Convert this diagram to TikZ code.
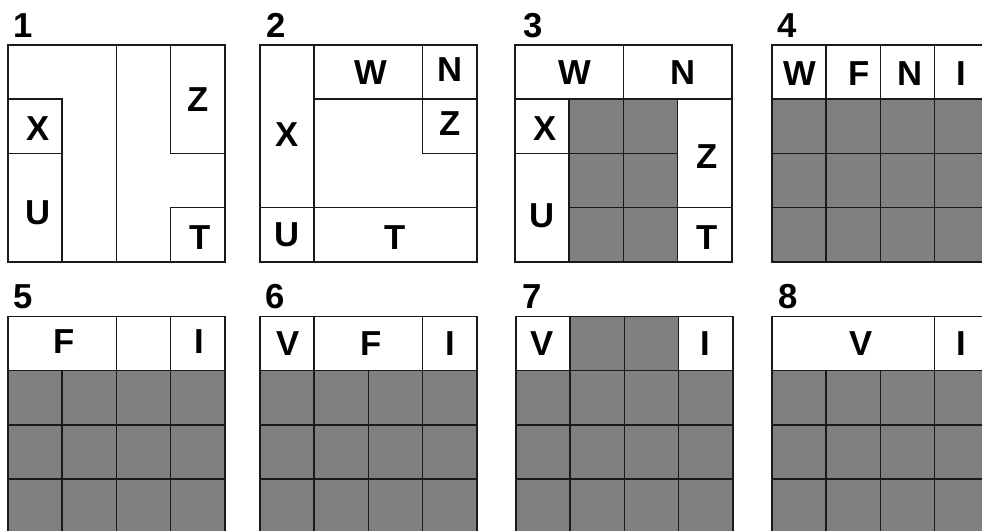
\documentclass[tikz,border=0pt]{standalone}
\usepackage{fontspec}
\setmainfont{Liberation Sans}
\definecolor{cellgray}{HTML}{808080}
\definecolor{linecol}{HTML}{1A1A1A}
\tikzset{
  ln/.style={draw=linecol, line width=1.15pt, line cap=rect, line join=miter},
  gcell/.style={fill=cellgray},
  lbl/.style={inner sep=0pt, font=\fontsize{26}{26}\selectfont\bfseries},
  num/.style={inner sep=0pt, anchor=base west, font=\fontsize{26}{26}\selectfont\bfseries},
  panel/.style={scale=54.2}
}
\begin{document}
\begin{tikzpicture}[x=0.75pt,y=-0.75pt]
\useasboundingbox (0,0) rectangle (982,531);
\clip (0,0) rectangle (982,531);
\fill[white] (0,0) rectangle (982,531);

% ---------- Panel 1 ----------
\begin{scope}[shift={(8,45)},panel]
  \node[num] (n1) at (0.1,-0.14) {1};
  \draw[ln] (0,0) rectangle (4,4);
  \draw[ln] (2,0) -- (2,4);
  \draw[ln] (0,1) -- (1,1) -- (1,4);
  \draw[ln] (0,2) -- (1,2);
  \draw[ln] (3,0) -- (3,2) -- (4,2);
  \draw[ln] (4,3) -- (3,3) -- (3,4);
  \node[lbl] (p1x) at (0.55,1.55) {X};
  \node[lbl] (p1u) at (0.55,3.1) {U};
  \node[lbl] (p1z) at (3.5,1.0) {Z};
  \node[lbl] (p1t) at (3.55,3.55) {T};
\end{scope}

% ---------- Panel 2 ----------
\begin{scope}[shift={(260,45)},panel]
  \node[num] (n2) at (0.12,-0.14) {2};
  \draw[ln] (0,0) rectangle (4,4);
  \draw[ln] (1,0) -- (1,4);
  \draw[ln] (0,3) -- (4,3);
  \draw[ln] (1,1) -- (4,1);
  \draw[ln] (3,0) -- (3,2) -- (4,2);
  \node[lbl] (p2x) at (0.5,1.65) {X};
  \node[lbl] (p2w) at (2.05,0.5) {W};
  \node[lbl] (p2n) at (3.5,0.45) {N};
  \node[lbl] (p2z) at (3.5,1.45) {Z};
  \node[lbl] (p2u) at (0.5,3.5) {U};
  \node[lbl] (p2t) at (2.5,3.55) {T};
\end{scope}

% ---------- Panel 3 ----------
\begin{scope}[shift={(515,45)},panel]
  \node[num] (n3) at (0.15,-0.14) {3};
  \fill[gcell] (1,1) rectangle (3,4);
  \draw[ln] (0,0) rectangle (4,4);
  \draw[ln] (0,1) -- (4,1);
  \draw[ln] (2,0) -- (2,4);
  \draw[ln] (1,1) -- (1,4);
  \draw[ln] (3,1) -- (3,4);
  \draw[ln] (0,2) -- (3,2);
  \draw[ln] (1,3) -- (4,3);
  \node[lbl] (p3w) at (1.1,0.5) {W};
  \node[lbl] (p3n) at (3.1,0.5) {N};
  \node[lbl] (p3x) at (0.55,1.55) {X};
  \node[lbl] (p3u) at (0.5,3.15) {U};
  \node[lbl] (p3z) at (3.55,2.05) {Z};
  \node[lbl] (p3t) at (3.55,3.55) {T};
\end{scope}

% ---------- Panel 4 ----------
\begin{scope}[shift={(772,45)},panel]
  \node[num] (n4) at (0.1,-0.14) {4};
  \fill[gcell] (0,1) rectangle (4,4);
  \draw[ln] (0,0) rectangle (4,4);
  \foreach \k in {1,2,3} {
    \draw[ln] (\k,0) -- (\k,4);
    \draw[ln] (0,\k) -- (4,\k);
  }
  \node[lbl] (p4w) at (0.52,0.53) {W};
  \node[lbl] (p4f) at (1.6,0.53) {F};
  \node[lbl] (p4n) at (2.54,0.53) {N};
  \node[lbl] (p4i) at (3.5,0.53) {I};
\end{scope}

% ---------- Panel 5 ----------
\begin{scope}[shift={(8,316.5)},panel]
  \node[num] (n5) at (0.1,-0.14) {5};
  \fill[gcell] (0,1) rectangle (4,4);
  \draw[ln] (0,0) rectangle (4,4);
  \foreach \k in {1,2,3} {
    \draw[ln] (\k,1) -- (\k,4);
    \draw[ln] (0,\k) -- (4,\k);
  }
  \draw[ln] (2,0) -- (2,1);
  \draw[ln] (3,0) -- (3,1);
  \node[lbl] (p5f) at (1.03,0.47) {F};
  \node[lbl] (p5i) at (3.53,0.47) {I};
\end{scope}

% ---------- Panel 6 ----------
\begin{scope}[shift={(260,316.5)},panel]
  \node[num] (n6) at (0.1,-0.14) {6};
  \fill[gcell] (0,1) rectangle (4,4);
  \draw[ln] (0,0) rectangle (4,4);
  \foreach \k in {1,2,3} {
    \draw[ln] (\k,1) -- (\k,4);
    \draw[ln] (0,\k) -- (4,\k);
  }
  \draw[ln] (1,0) -- (1,1);
  \draw[ln] (3,0) -- (3,1);
  \node[lbl] (p6v) at (0.52,0.5) {V};
  \node[lbl] (p6f) at (2.05,0.5) {F};
  \node[lbl] (p6i) at (3.52,0.5) {I};
\end{scope}

% ---------- Panel 7 ----------
\begin{scope}[shift={(516,316.5)},panel]
  \node[num] (n7) at (0.12,-0.14) {7};
  \fill[gcell] (0,1) rectangle (4,4);
  \fill[gcell] (1,0) rectangle (3,1);
  \draw[ln] (0,0) rectangle (4,4);
  \foreach \k in {1,2,3} {
    \draw[ln] (\k,0) -- (\k,4);
    \draw[ln] (0,\k) -- (4,\k);
  }
  \node[lbl] (p7v) at (0.48,0.5) {V};
  \node[lbl] (p7i) at (3.5,0.5) {I};
\end{scope}

% ---------- Panel 8 ----------
\begin{scope}[shift={(772,316.5)},panel]
  \node[num] (n8) at (0.12,-0.14) {8};
  \fill[gcell] (0,1) rectangle (4,4);
  \draw[ln] (0,0) rectangle (4,4);
  \foreach \k in {1,2,3} {
    \draw[ln] (\k,1) -- (\k,4);
    \draw[ln] (0,\k) -- (4,\k);
  }
  \draw[ln] (3,0) -- (3,1);
  \node[lbl] (p8v) at (1.65,0.5) {V};
  \node[lbl] (p8i) at (3.5,0.5) {I};
\end{scope}
\end{tikzpicture}
\end{document}
